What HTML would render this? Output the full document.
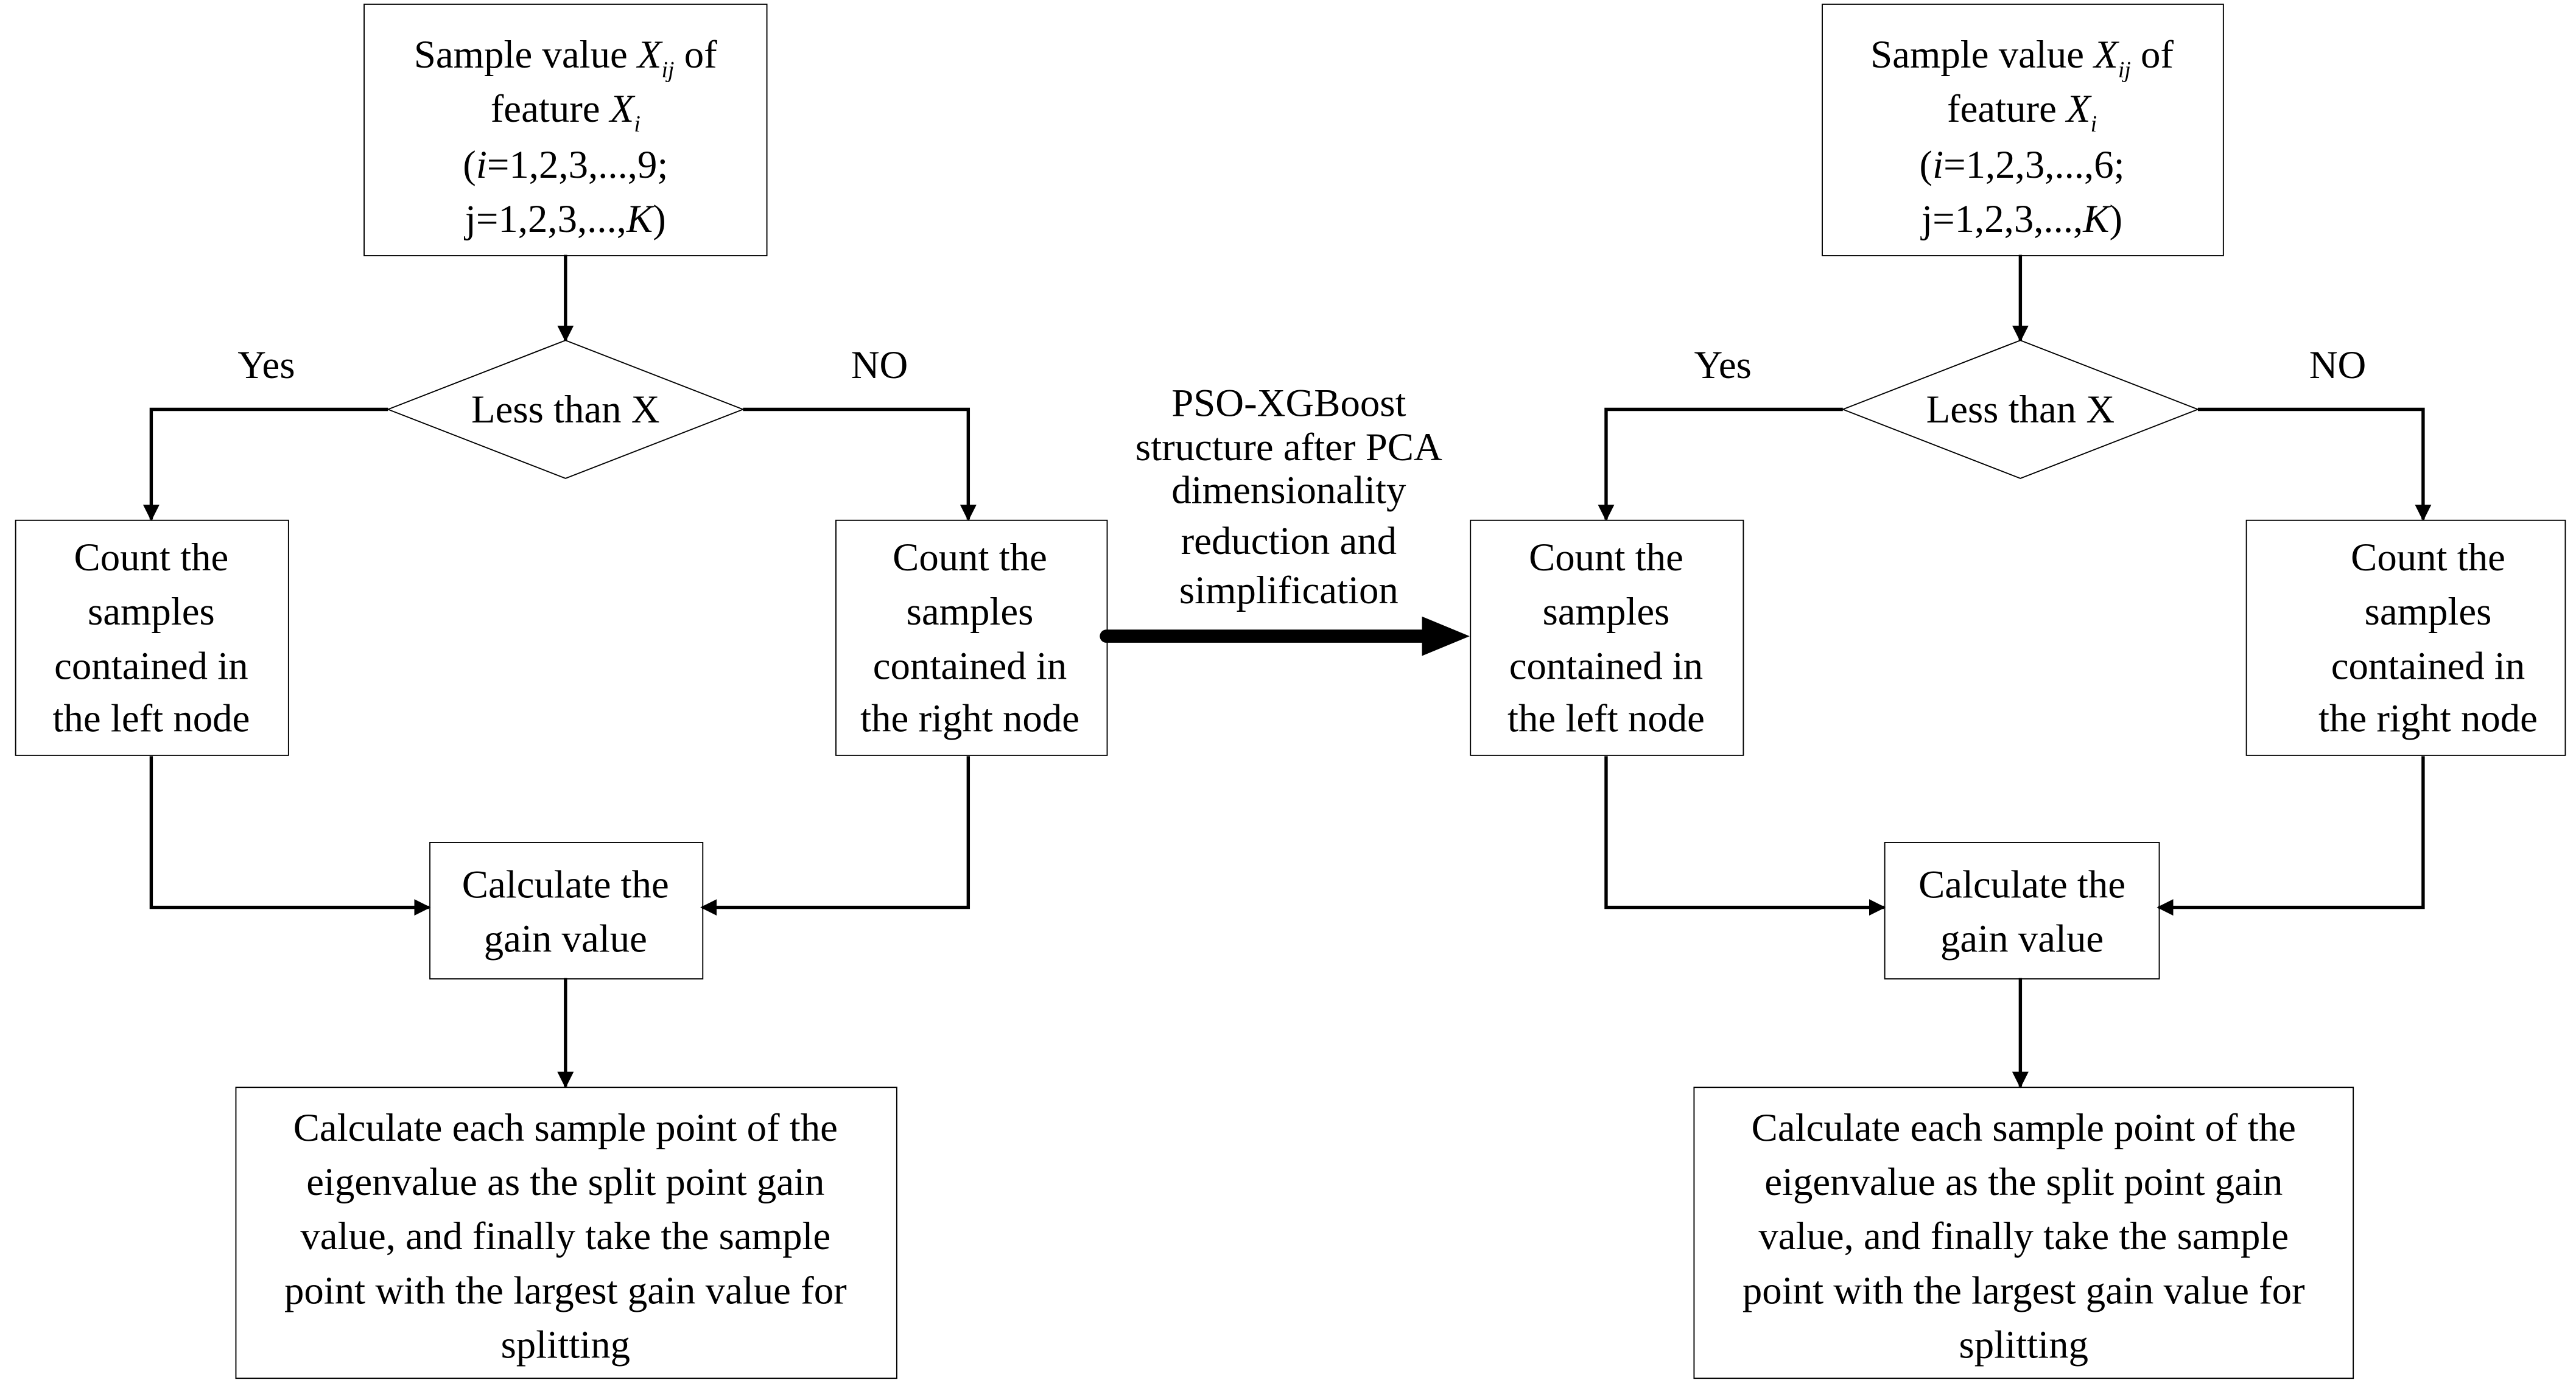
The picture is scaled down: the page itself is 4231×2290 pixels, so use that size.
<!DOCTYPE html>
<html><head><meta charset="utf-8"><style>
html,body{margin:0;padding:0;background:#fff}
svg{display:block}
text{font-family:"Liberation Serif",serif;font-size:24px;fill:#000}
</style></head><body>
<svg width="4231" height="2290" viewBox="0 0 1567 848" xmlns="http://www.w3.org/2000/svg">
<defs>
<marker id="a" markerWidth="10" markerHeight="10" refX="9" refY="5" orient="auto" markerUnits="userSpaceOnUse" viewBox="0 0 10 10">
<path d="M0,0 L10,5 L0,10 Z" fill="#000"/>
</marker>
</defs>
<rect width="1567" height="848" fill="#fff"/>

<g id="L">
<rect x="221.5" y="2.5" width="245" height="153" fill="none" stroke="#000" stroke-width="0.7"/>
<g text-anchor="middle">
<text x="344" y="41">Sample value  <tspan font-style="italic">X</tspan><tspan font-style="italic" font-size="14" dy="6">ij</tspan><tspan dy="-6"> of</tspan></text>
<text x="344" y="74">feature  <tspan font-style="italic">X</tspan><tspan font-style="italic" font-size="14" dy="6">i</tspan></text>
<text x="344" y="108">(<tspan font-style="italic">i</tspan>=1,2,3,...,9;</text>
<text x="344" y="141">j=1,2,3,...,<tspan font-style="italic">K</tspan>)</text>
</g>
<line x1="344" y1="155" x2="344" y2="207" stroke="#000" stroke-width="2" marker-end="url(#a)"/>
<polygon points="344,207 452,249 344,291 236,249" fill="#fff" stroke="#000" stroke-width="0.7"/>
<text x="344" y="257" text-anchor="middle">Less than X</text>
<text x="162" y="230" text-anchor="middle">Yes</text>
<text x="535" y="230" text-anchor="middle">NO</text>
<polyline points="236,249 92,249 92,316" fill="none" stroke="#000" stroke-width="2" marker-end="url(#a)"/>
<polyline points="452,249 589,249 589,316" fill="none" stroke="#000" stroke-width="2" marker-end="url(#a)"/>
<rect x="9.5" y="316.5" width="166" height="143" fill="none" stroke="#000" stroke-width="0.7"/>
<g text-anchor="middle">
<text x="92" y="347">Count the</text><text x="92" y="380">samples</text><text x="92" y="413">contained in</text><text x="92" y="445">the left node</text>
</g>
<rect x="508.5" y="316.5" width="165" height="143" fill="none" stroke="#000" stroke-width="0.7"/>
<g text-anchor="middle">
<text x="590" y="347">Count the</text><text x="590" y="380">samples</text><text x="590" y="413">contained in</text><text x="590" y="445">the right node</text>
</g>
<polyline points="92,460 92,552 261,552" fill="none" stroke="#000" stroke-width="2" marker-end="url(#a)"/>
<polyline points="589,460 589,552 427,552" fill="none" stroke="#000" stroke-width="2" marker-end="url(#a)"/>
<rect x="261.5" y="512.5" width="166" height="83" fill="none" stroke="#000" stroke-width="0.7"/>
<text x="344" y="546" text-anchor="middle">Calculate the</text>
<text x="344" y="579" text-anchor="middle">gain value</text>
<line x1="344" y1="595" x2="344" y2="661" stroke="#000" stroke-width="2" marker-end="url(#a)"/>
<rect x="143.5" y="661.5" width="402" height="177" fill="none" stroke="#000" stroke-width="0.7"/>
<g text-anchor="middle">
<text x="344" y="694">Calculate each sample point of the</text>
<text x="344" y="727">eigenvalue as the split point gain</text>
<text x="344" y="760">value, and finally take the sample</text>
<text x="344" y="793">point with the largest gain value for</text>
<text x="344" y="826">splitting</text>
</g>
</g>

<g>
<rect x="1108.5" y="2.5" width="244" height="153" fill="none" stroke="#000" stroke-width="0.7"/>
<g text-anchor="middle">
<text x="1230" y="41">Sample value  <tspan font-style="italic">X</tspan><tspan font-style="italic" font-size="14" dy="6">ij</tspan><tspan dy="-6"> of</tspan></text>
<text x="1230" y="74">feature  <tspan font-style="italic">X</tspan><tspan font-style="italic" font-size="14" dy="6">i</tspan></text>
<text x="1230" y="108">(<tspan font-style="italic">i</tspan>=1,2,3,...,6;</text>
<text x="1230" y="141">j=1,2,3,...,<tspan font-style="italic">K</tspan>)</text>
</g>
<line x1="1229" y1="155" x2="1229" y2="207" stroke="#000" stroke-width="2" marker-end="url(#a)"/>
<polygon points="1229,207 1337,249 1229,291 1121,249" fill="#fff" stroke="#000" stroke-width="0.7"/>
<text x="1229" y="257" text-anchor="middle">Less than X</text>
<text x="1048" y="230" text-anchor="middle">Yes</text>
<text x="1422" y="230" text-anchor="middle">NO</text>
<polyline points="1121,249 977,249 977,316" fill="none" stroke="#000" stroke-width="2" marker-end="url(#a)"/>
<polyline points="1337,249 1474,249 1474,316" fill="none" stroke="#000" stroke-width="2" marker-end="url(#a)"/>
<rect x="894.5" y="316.5" width="166" height="143" fill="none" stroke="#000" stroke-width="0.7"/>
<g text-anchor="middle">
<text x="977" y="347">Count the</text><text x="977" y="380">samples</text><text x="977" y="413">contained in</text><text x="977" y="445">the left node</text>
</g>
<rect x="1366.5" y="316.5" width="194" height="143" fill="none" stroke="#000" stroke-width="0.7"/>
<g text-anchor="middle">
<text x="1477" y="347">Count the</text><text x="1477" y="380">samples</text><text x="1477" y="413">contained in</text><text x="1477" y="445">the right node</text>
</g>
<polyline points="977,460 977,552 1146,552" fill="none" stroke="#000" stroke-width="2" marker-end="url(#a)"/>
<polyline points="1474,460 1474,552 1313,552" fill="none" stroke="#000" stroke-width="2" marker-end="url(#a)"/>
<rect x="1146.5" y="512.5" width="167" height="83" fill="none" stroke="#000" stroke-width="0.7"/>
<text x="1230" y="546" text-anchor="middle">Calculate the</text>
<text x="1230" y="579" text-anchor="middle">gain value</text>
<line x1="1229" y1="595" x2="1229" y2="661" stroke="#000" stroke-width="2" marker-end="url(#a)"/>
<rect x="1030.5" y="661.5" width="401" height="177" fill="none" stroke="#000" stroke-width="0.7"/>
<g text-anchor="middle">
<text x="1231" y="694">Calculate each sample point of the</text>
<text x="1231" y="727">eigenvalue as the split point gain</text>
<text x="1231" y="760">value, and finally take the sample</text>
<text x="1231" y="793">point with the largest gain value for</text>
<text x="1231" y="826">splitting</text>
</g>
</g>

<g text-anchor="middle">
<text x="784" y="253">PSO-XGBoost</text>
<text x="784" y="280">structure after PCA</text>
<text x="784" y="306">dimensionality</text>
<text x="784" y="337">reduction and</text>
<text x="784" y="367">simplification</text>
</g>
<line x1="673" y1="387" x2="868" y2="387" stroke="#000" stroke-width="8" stroke-linecap="round"/>
<polygon points="865,375 894,387 865,399" fill="#000"/>
</svg>
</body></html>
